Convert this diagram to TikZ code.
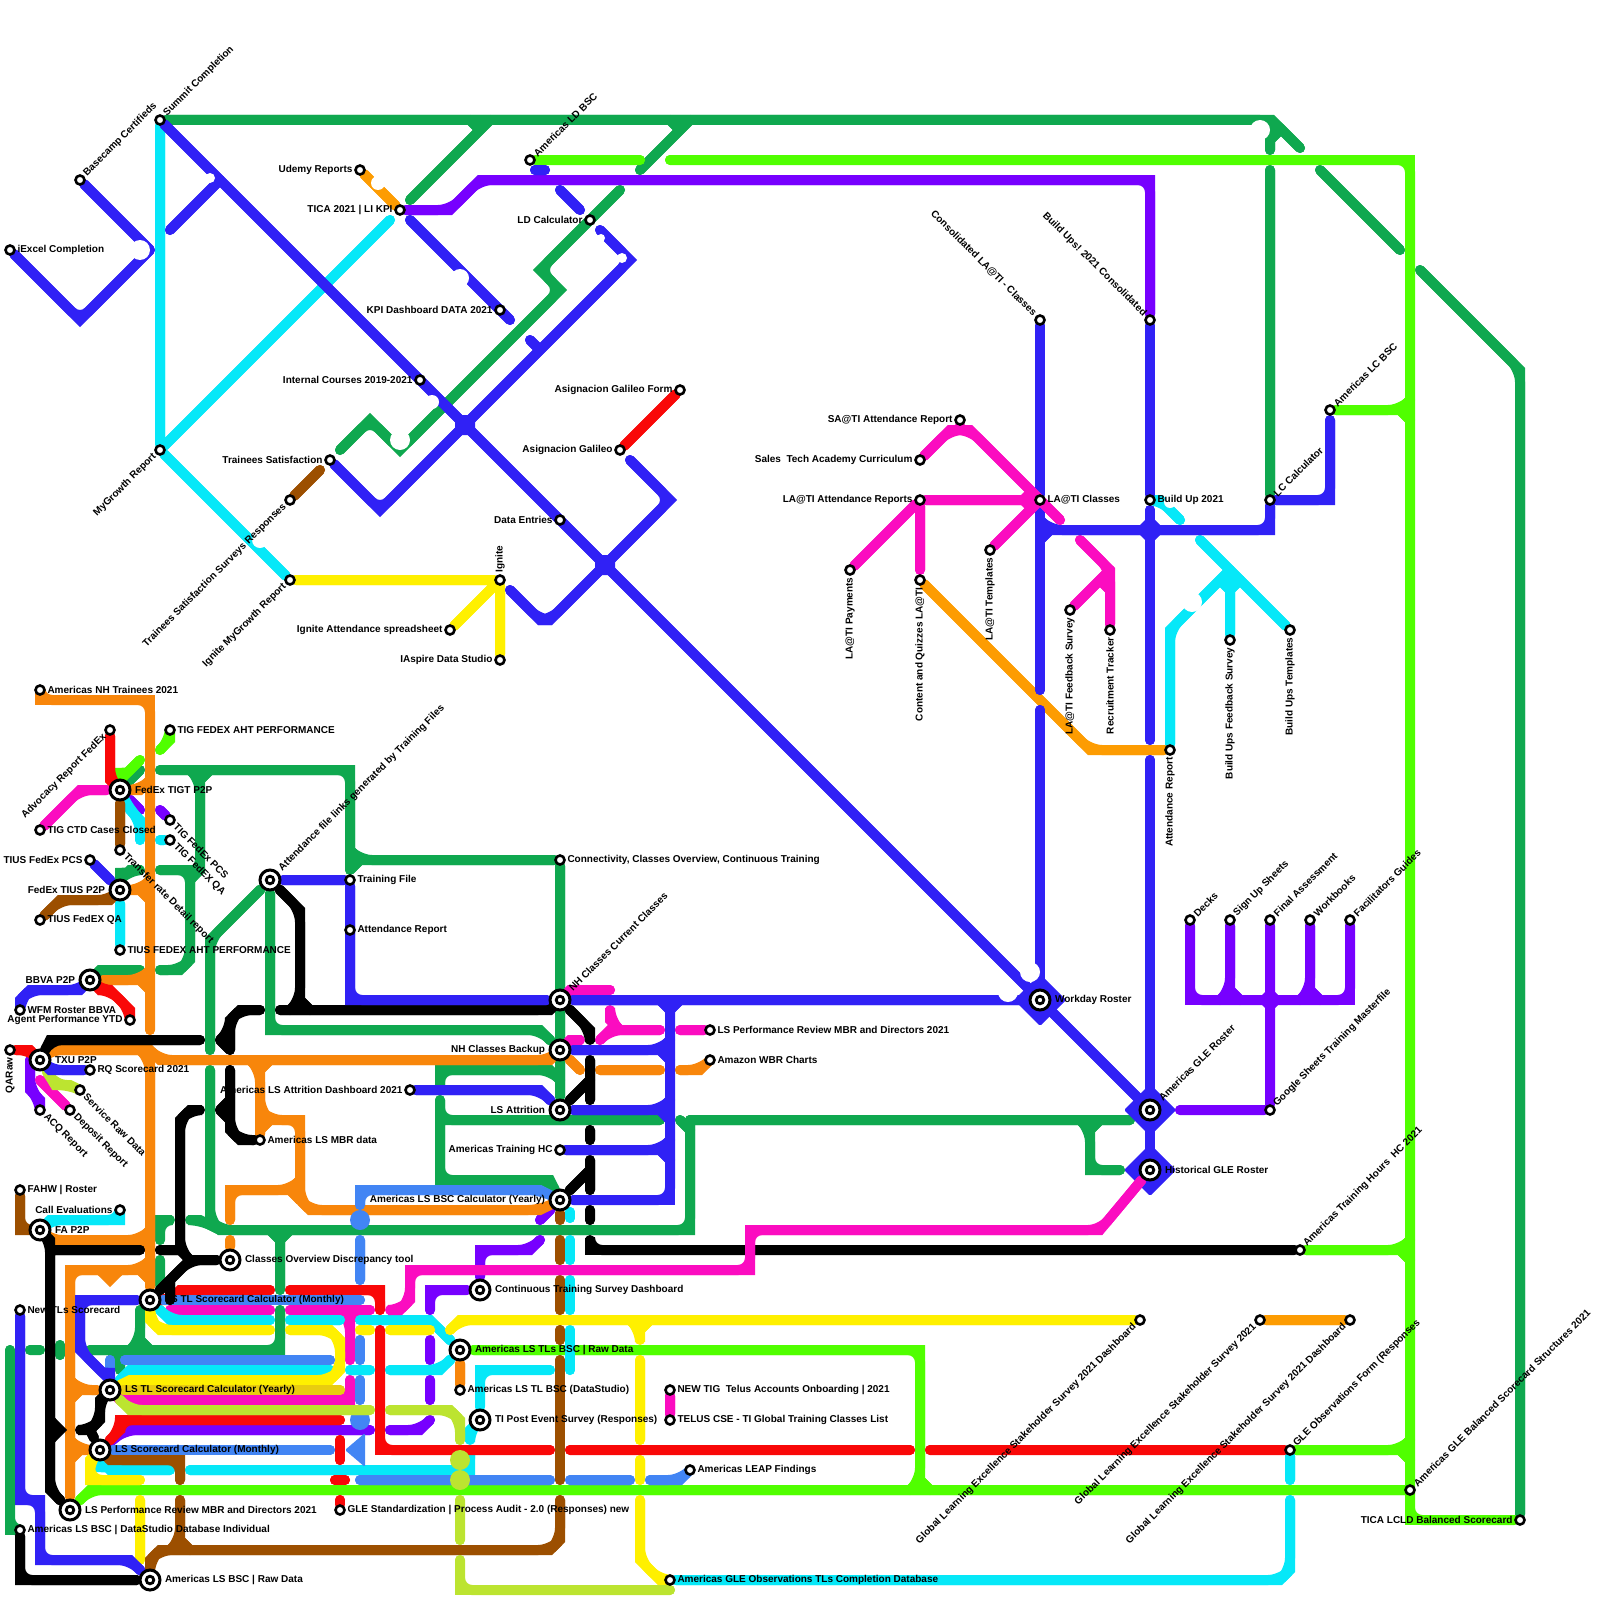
\documentclass[tikz,border=0pt]{standalone}
\usepackage{fontspec}
\setmainfont{Liberation Sans}
\usetikzlibrary{backgrounds}
\definecolor{tBlue}{HTML}{3021F5}
\definecolor{tGreen}{HTML}{0FA84F}
\definecolor{tLime}{HTML}{50FF00}
\definecolor{tPurple}{HTML}{7700FF}
\definecolor{tPink}{HTML}{FB0CC0}
\definecolor{tCyan}{HTML}{06E8F8}
\definecolor{tOrange}{HTML}{F8860B}
\definecolor{tAmber}{HTML}{FD9C02}
\definecolor{tYellow}{HTML}{FFF000}
\definecolor{tOlive}{HTML}{E8CC10}
\definecolor{tBrown}{HTML}{9C4F00}
\definecolor{tRed}{HTML}{F90808}
\definecolor{tSky}{HTML}{4285F4}
\definecolor{tMoss}{HTML}{BCE430}
\newcommand\tube[2]{\draw[line,#1] #2; \draw[line,#1,rounded corners=12pt] #2;}
\newcommand\hub[4]{\fill[#1,rounded corners=1.5pt] (#2-#4,#3) -- (#2,#3-#4) -- (#2+#4,#3) -- (#2,#3+#4) -- cycle;}
\begin{document}
\begin{tikzpicture}[
    x=1pt, y=-1pt,
    line/.style={line width=10pt, line cap=round, line join=miter},
    lbl/.style={font=\fontsize{10}{12}\selectfont\bfseries, inner ysep=0pt, inner xsep=1.5pt, text=black},
    stop/.style={circle, draw=black, fill=white, line width=2.6pt, minimum size=9pt, inner sep=0pt},
    big/.style={stop, line width=3pt, minimum size=20pt, outer sep=3.3pt,
      path picture={\draw[black, line width=2.8pt] (path picture bounding box.center) circle (3.8pt);}},
    e/.style={label={[lbl,anchor=west]0:#1}},
    w/.style={label={[lbl,anchor=east]180:#1}},
    ne/.style={label={[lbl,rotate=45,anchor=west]45:#1}},
    se/.style={label={[lbl,rotate=-45,anchor=west]-45:#1}},
    nw/.style={label={[lbl,rotate=-45,anchor=east]135:#1}},
    sw/.style={label={[lbl,rotate=45,anchor=east]225:#1}},
    n/.style={label={[lbl,rotate=90,anchor=west]90:#1}},
    s/.style={label={[lbl,rotate=90,anchor=east]270:#1}}
  ]
  \useasboundingbox (0,0) rectangle (1600,1600);

  % Top left stops.
  \node[stop,ne=Summit Completion] (summit) at (160,120) {};
  \node[stop,ne=Basecamp Certifieds] (basecamp) at (80,180) {};
  \node[stop,e=iExcel Completion] (iexcel) at (10,250) {};
  \node[stop,w=Udemy Reports] (udemy) at (360,170) {};
  \node[stop,w={TICA 2021 | LI KPI}] (tica) at (400,210) {};
  \node[stop,ne=Americas LD BSC] (ldbsc) at (530,160) {};
  \node[stop,w=LD Calculator] (ldcalc) at (590,220) {};
  \node[stop,w=KPI Dashboard DATA 2021] (kpi) at (500,310) {};
  \node[stop,w=Internal Courses 2019-2021] (internal) at (420,380) {};
  \node[stop,w=Trainees Satisfaction] (trainees) at (330,460) {};
  \node[stop,w=Asignacion Galileo Form] (galform) at (680,390) {};
  \node[stop,w=Asignacion Galileo] (galileo) at (620,450) {};
  \node[stop,w=Data Entries] (dataent) at (560,520) {};
  \node[stop,sw=Trainees Satisfaction Surveys Responses] (surveys) at (290,500) {};
  \node[stop,sw=MyGrowth Report] (mygrowth) at (160,450) {};
  \node[stop,sw=Ignite MyGrowth Report] (igrowth) at (290,580) {};
  \node[stop,n=Ignite] (ignite) at (500,580) {};
  \node[stop,w=Ignite Attendance spreadsheet] (igsheet) at (450,630) {};
  \node[stop,w=IAspire Data Studio] (iaspire) at (500,660) {};

  % LA@TI and build up stops.
  \node[stop,w=SA@TI Attendance Report] (saati) at (960,420) {};
  \node[stop,w=Sales\ \ Tech Academy Curriculum] (sales) at (920,460) {};
  \node[stop,w=LA@TI Attendance Reports] (laattend) at (920,500) {};
  \node[stop,e=LA@TI Classes] (laclass) at (1040,500) {};
  \node[stop,e=Build Up 2021] (buildup) at (1150,500) {};
  \node[stop,ne=LC Calculator] (lccalc) at (1270,500) {};
  \node[stop,ne=Americas LC BSC] (lcbsc) at (1330,410) {};
  \node[stop,s=LA@TI Payments] (lapay) at (850,570) {};
  \node[stop,s=Content and Quizzes LA@TI] (laquiz) at (920,580) {};
  \node[stop,s=LA@TI Templates] (latempl) at (990,550) {};
  \node[stop,s=LA@TI Feedback Survey] (lafeed) at (1070,610) {};
  \node[stop,s=Recruitment Tracker] (recruit) at (1110,630) {};
  \node[stop,s=Attendance Report] (attrep) at (1170,750) {};
  \node[stop,s=Build Ups Feedback Survey] (bufeed) at (1230,640) {};
  \node[stop,s=Build Ups Templates] (butempl) at (1290,630) {};
  \node[stop,nw=Consolidated LA@TI - Classes] (consol) at (1040,320) {};
  \node[stop,nw=Build Ups! 2021 Consolidated] (bucons) at (1150,320) {};

  % Roster stops.
  \node[stop,ne=Decks] (decks) at (1190,920) {};
  \node[stop,ne=Sign Up Sheets] (signup) at (1230,920) {};
  \node[stop,ne=Final Assessment] (final) at (1270,920) {};
  \node[stop,ne=Workbooks] (workbook) at (1310,920) {};
  \node[stop,ne=Facilitators Guides] (guides) at (1350,920) {};
  \node[big,e=Workday Roster] (workday) at (1040,1000) {};
  \node[big,ne=Americas GLE Roster] (gleroster) at (1150,1110) {};
  \node[big,e=Historical GLE Roster] (histroster) at (1150,1170) {};
  \node[stop,ne=Google Sheets Training Masterfile] (gsheets) at (1270,1110) {};
  \node[stop,ne=Americas Training Hours\ \ HC 2021] (athours) at (1300,1250) {};
  \node[stop,sw=Global Learning Excellence Stakeholder Survey 2021 Dashboard] (gleone) at (1140,1320) {};
  \node[stop,sw=Global Learning Excellence Stakeholder Survey 2021] (gletwo) at (1260,1320) {};
  \node[stop,sw=Global Learning Excellence Stakeholder Survey 2021 Dashboard] (glethree) at (1350,1320) {};
  \node[stop,ne=GLE Observations Form (Responses] (gleobs) at (1290,1450) {};
  \node[stop,ne=Americas GLE Balanced Scorecard Structures 2021] (glebal) at (1410,1490) {};
  \node[stop,w=TICA LCLD Balanced Scorecard] (lcld) at (1520,1520) {};
  \node[stop,e=Americas GLE Observations TLs Completion Database] (gletls) at (670,1580) {};

  % Left column stops.
  \node[stop,e=Americas NH Trainees 2021] (nhtrain) at (40,690) {};
  \node[stop,sw=Advocacy Report FedEx] (advocacy) at (110,730) {};
  \node[stop,e=TIG FEDEX AHT PERFORMANCE] (tigaht) at (170,730) {};
  \node[big,e=FedEx TIGT P2P] (tigt) at (120,790) {};
  \node[stop,e=TIG CTD Cases Closed] (tigctd) at (40,830) {};
  \node[stop,se=TIG FedEx PCS] (tigpcs) at (170,820) {};
  \node[stop,se=TIG FedEX QA] (tigqa) at (170,840) {};
  \node[stop,se=Transfer rate Detail report] (transfer) at (120,850) {};
  \node[stop,w=TIUS FedEx PCS] (tiuspcs) at (90,860) {};
  \node[big,w=FedEx TIUS P2P] (tius) at (120,890) {};
  \node[stop,e=TIUS FedEX QA] (tiusqa) at (40,920) {};
  \node[stop,e=TIUS FEDEX AHT PERFORMANCE] (tiusaht) at (120,950) {};
  \node[big,w=BBVA P2P] (bbva) at (90,980) {};
  \node[stop,e=WFM Roster BBVA] (wfm) at (20,1010) {};
  \node[stop,w=Agent Performance YTD] (agent) at (130,1020) {};
  \node[stop,s=QARaw] (qaraw) at (10,1050) {};
  \node[big,e=TXU P2P] (txu) at (40,1060) {};
  \node[stop,e=RQ Scorecard 2021] (rq) at (90,1070) {};
  \node[stop,se=Service Raw Data] (service) at (80,1090) {};
  \node[stop,se=Deposit Report] (deposit) at (70,1110) {};
  \node[stop,se=ACQ Report] (acq) at (40,1110) {};
  \node[stop,e=FAHW | Roster] (fahw) at (20,1190) {};
  \node[stop,w=Call Evaluations] (callev) at (120,1210) {};
  \node[big,e=FA P2P] (fa) at (40,1230) {};
  \node[stop,e=New TLs Scorecard] (newtl) at (20,1310) {};
  \node[big,e=LS TL Scorecard Calculator (Monthly)] (tlmonth) at (150,1300) {};
  \node[big,e=LS TL Scorecard Calculator (Yearly)] (tlyear) at (110,1390) {};
  \node[big,e=LS Scorecard Calculator (Monthly)] (lsmonth) at (100,1450) {};
  \node[big,e=LS Performance Review MBR and Directors 2021] (lsperf) at (70,1510) {};
  \node[stop,e={Americas LS BSC | DataStudio Database Individual}] (bscds) at (20,1530) {};
  \node[big,e={Americas LS BSC | Raw Data}] (bscraw) at (150,1580) {};

  % Middle stops.
  \node[big,ne=Attendance file links generated by Training Files] (attfile) at (270,880) {};
  \node[stop,e=Training File] (trainfile) at (350,880) {};
  \node[stop,e=Attendance Report] (attend) at (350,930) {};
  \node[stop,e={Connectivity, Classes Overview, Continuous Training}] (connect) at (560,860) {};
  \node[big,ne=NH Classes Current Classes] (nhcur) at (560,1000) {};
  \node[big,w=NH Classes Backup] (nhback) at (560,1050) {};
  \node[big,w=LS Attrition] (lsattr) at (560,1110) {};
  \node[stop,w=Americas Training HC] (trainhc) at (560,1150) {};
  \node[stop,w=Americas LS Attrition Dashboard 2021] (attrdash) at (410,1090) {};
  \node[big,w=Americas LS BSC Calculator (Yearly)] (bsccalc) at (560,1200) {};
  \node[stop,e=Americas LS MBR data] (mbrdata) at (260,1140) {};
  \node[stop,e=LS Performance Review MBR and Directors 2021] (lsreview) at (710,1030) {};
  \node[stop,e=Amazon WBR Charts] (amazon) at (710,1060) {};
  \node[big,e=Classes Overview Discrepancy tool] (classes) at (230,1260) {};
  \node[big,e=Continuous Training Survey Dashboard] (contin) at (480,1290) {};
  \node[big,e={Americas LS TLs BSC | Raw Data}] (tlsraw) at (460,1350) {};
  \node[stop,e=Americas LS TL BSC (DataStudio)] (tlbsc) at (460,1390) {};
  \node[big,e=TI Post Event Survey (Responses)] (tipost) at (480,1420) {};
  \node[stop,e={NEW TIG\ \ Telus Accounts Onboarding | 2021}] (newtig) at (670,1390) {};
  \node[stop,e=TELUS CSE - TI Global Training Classes List] (telus) at (670,1420) {};
  \node[stop,e=Americas LEAP Findings] (leap) at (690,1470) {};
  \node[stop,e={GLE Standardization | Process Audit - 2.0 (Responses) new}] (glestd) at (340,1510) {};

  \begin{scope}[on background layer]
    % Green lines.
    \tube{tGreen}{(summit) -- (1272,120) -- (1300,148) (1320,170) -- (1400,250) (1420,270) -- (1520,370) -- (lcld)}
    \tube{tGreen}{(1270,125) -- (1270,150) (1280,130) -- (1270,140) (1270,170) -- (lccalc)}
    \tube{tGreen}{(410,200) -- (490,120) (470,120) -- (480,130) (640,170) -- (690,120) (670,120) -- (680,130)}
    \tube{tGreen}{(620,190) -- (540,270) -- (560,290) -- (400,450) -- (370,420) -- (340,450)}
    \tube{tGreen}{(160,770) -- (350,770) -- (350,870) (350,850) -- (360,860) -- (connect) -- (lsattr) (350,870) -- (360,860)}
    \tube{tGreen}{(190,770) -- (200,780) -- (200,870) -- (190,880) (210,770) -- (200,780)}
    \tube{tGreen}{(160,870) -- (190,870) -- (190,960) -- (180,970) -- (160,970)}
    \tube{tGreen}{(attfile) -- (210,940) -- (210,1050) (210,1070) -- (210,1220) -- (220,1230) -- (690,1230) -- (690,1120) (190,1220) -- (200,1220) -- (220,1230)}
    \tube{tGreen}{(680,1120) -- (690,1130) (690,1120) -- (1130,1120) (1080,1120) -- (1090,1130) -- (1090,1170) -- (1120,1170) (1100,1120) -- (1090,1130)}
    \tube{tGreen}{(attfile) -- (270,1030) -- (540,1030) -- (nhback)}
    \tube{tGreen}{(440,1085) -- (440,1070) -- (550,1070) -- (560,1080)}
    \tube{tGreen}{(440,1100) -- (440,1120) -- (660,1120) (440,1100) -- (440,1180) -- (550,1180) -- (bsccalc)}
    \tube{tGreen}{(170,1220) -- (160,1220) -- (160,1240) (160,1260) -- (160,1285)}
    \tube{tGreen}{(140,1310) -- (140,1340) -- (130,1350) (90,1350) -- (280,1350) -- (280,1310) (280,1240) -- (280,1290) (140,1340) -- (150,1350)}
    \tube{tGreen}{(270,1230) -- (280,1240) (290,1230) -- (280,1240) (120,1350) -- (120,1370) (110,1350) -- (120,1360) (130,1350) -- (120,1360)}
    \tube{tGreen}{(30,1350) -- (40,1350) (60,1345) -- (60,1355) (10,1350) -- (10,1530) -- (bscds)}
    \tube{tGreen}{(bbva) -- (100,970) -- (140,970) (tigt) -- (140,770) (tius) -- (120,880) -- (130,870) -- (140,870)}

    % Lime lines.
    \tube{tLime}{(ldbsc) -- (640,160) (670,160) -- (1410,160) -- (1410,1520) -- (lcld)}
    \tube{tLime}{(lcbsc) -- (1400,410) -- (1410,400) (1400,410) -- (1410,420)}
    \tube{tLime}{(athours) -- (1400,1250) -- (1410,1240) (1400,1250) -- (1410,1260)}
    \tube{tLime}{(gleobs) -- (1400,1450) -- (1410,1440) (1400,1450) -- (1410,1460)}
    \tube{tLime}{(lsperf) -- (90,1490) -- (1410,1490)}
    \tube{tLime}{(tlsraw) -- (920,1350) -- (920,1480) -- (910,1490) (920,1480) -- (930,1490)}
    \tube{tLime}{(tigaht) -- (170,740) -- (160,750) (tigt) -- (120,780) -- (140,760)}

    % Purple lines.
    \tube{tPurple}{(tica) -- (450,210) -- (480,180) -- (1150,180) -- (bucons)}
    \tube{tPurple}{(decks) -- (1190,1000) -- (1350,1000) -- (guides) (final) -- (gsheets) -- (1180,1110)}
    \tube{tPurple}{(signup) -- (1230,990) -- (1220,1000) (1230,990) -- (1240,1000) (workbook) -- (1310,990) -- (1300,1000) (1310,990) -- (1320,1000)}
    \hub{tPurple}{1270}{1000}{13}
    \tube{tPurple}{(tigt) -- (140,810) (160,810) -- (tigpcs) (30,1060) -- (30,1090) -- (40,1100) -- (acq)}
    \tube{tPurple}{(bsccalc) -- (540,1220) (540,1240) -- (530,1250) -- (480,1250) -- (480,1265) (480,1275) -- (contin)}
    \tube{tPurple}{(contin) -- (430,1290) -- (430,1310) (430,1340) -- (430,1360) (430,1380) -- (430,1400)}
    \tube{tPurple}{(390,1430) -- (420,1430) -- (430,1420) (lsmonth) -- (125,1430) -- (370,1430)}

    % Pink lines.
    \tube{tPink}{(1080,540) -- (1110,570) -- (recruit) (lafeed) -- (1110,570) (1100,580) -- (1110,590)}
    \tube{tPink}{(tigctd) -- (80,790) -- (tigt) (40,1080) -- (deposit)}
    \tube{tPink}{(nhcur) -- (570,990) -- (610,990) (nhback) -- (570,1040) -- (580,1040)}
    \tube{tPink}{(600,1040) -- (610,1030) -- (660,1030) (610,1010) -- (610,1020) -- (620,1030) (680,1030) -- (lsreview)}
    \tube{tPink}{(170,1310) -- (270,1310) (290,1310) -- (370,1310) (340,1310) -- (350,1320) -- (350,1360) (360,1310) -- (350,1320)}
    \tube{tPink}{(tlyear) -- (120,1400) -- (350,1400) -- (350,1380) (newtig) -- (telus)}

    % Cyan lines.
    \tube{tCyan}{(summit) -- (mygrowth) -- (igrowth) (mygrowth) -- (390,220)}
    \tube{tCyan}{(buildup) -- (1160,500) -- (1180,520) (1200,540) -- (butempl)}
    \tube{tCyan}{(attrep) -- (1170,630) -- (1230,570) (1230,575) -- (bufeed) (1220,580) -- (1230,590) (1240,580) -- (1230,590)}
    \tube{tCyan}{(callev) -- (120,1220) -- (50,1220) -- (fa) (tigt) -- (130,810) -- (140,820) -- (140,840) (160,840) -- (tigqa) (tius) -- (tiusaht)}
    \tube{tCyan}{(tlmonth) -- (170,1320) -- (270,1320) (290,1320) -- (340,1320) (360,1320) -- (430,1320) -- (tlsraw)}
    \tube{tCyan}{(tlyear) -- (130,1370) -- (330,1370) (350,1370) -- (370,1370) (390,1370) -- (440,1370) -- (tlsraw)}
    \tube{tCyan}{(lsmonth) -- (100,1460) -- (110,1470) -- (170,1470) (190,1470) -- (470,1470) -- (470,1455) (tipost) -- (470,1430) -- (470,1440)}
    \tube{tCyan}{(tipost) -- (480,1370) -- (550,1370)}
    \tube{tCyan}{(570,1212) -- (570,1218) (570,1240) -- (570,1260) (570,1280) -- (570,1310) (570,1330) -- (570,1370)}
    \tube{tCyan}{(gletls) -- (1280,1580) -- (1290,1570) -- (1290,1500) (gleobs) -- (1290,1480)}

    % Orange lines.
    \tube{tOrange}{(nhtrain) -- (40,700) -- (150,700) -- (150,1030)}
    \tube{tOrange}{(tigt) -- (140,790) -- (150,780)}
    \tube{tOrange}{(tius) -- (140,890) -- (150,880) (140,890) -- (150,900)}
    \tube{tOrange}{(bbva) -- (140,980) -- (150,970) (140,980) -- (150,990)}
    \tube{tOrange}{(txu) -- (50,1050) -- (150,1050) -- (160,1060) -- (550,1060) -- (nhback)}
    \tube{tOrange}{(140,1050) -- (150,1060) -- (tlmonth)}
    \tube{tOrange}{(fa) -- (50,1240) -- (140,1240) -- (150,1230) (140,1240) -- (150,1250)}
    \tube{tOrange}{(150,1260) -- (140,1270) -- (70,1270) -- (lsperf) (140,1270) -- (150,1280)}
    \tube{tOrange}{(100,1270) -- (110,1280) -- (120,1270)}
    \tube{tOrange}{(70,1380) -- (80,1390) -- (tlyear) (70,1400) -- (80,1390) (70,1440) -- (80,1450) -- (lsmonth) (70,1460) -- (80,1450)}
    \tube{tOrange}{(250,1060) -- (260,1070) -- (260,1110) -- (270,1120) -- (300,1120) -- (300,1200) -- (310,1210) -- (540,1210) -- (bsccalc)}
    \tube{tOrange}{(270,1060) -- (260,1070) (260,1110) -- (mbrdata) (260,1130) -- (270,1120)}
    \tube{tOrange}{(230,1220) -- (230,1190) -- (290,1190) -- (300,1180) (290,1190) -- (300,1200) (230,1240) -- (classes)}
    \tube{tOrange}{(tlsraw) -- (tlbsc) (nhback) -- (580,1070) (600,1070) -- (660,1070) (680,1070) -- (700,1070) -- (amazon)}
    \tube{tAmber}{(udemy) -- (tica) (laquiz) -- (1090,750) -- (attrep) (gletwo) -- (glethree)}

    % Yellow lines.
    \tube{tYellow}{(igrowth) -- (ignite) -- (iaspire) (igsheet) -- (ignite) (490,580) -- (500,590)}
    \tube{tYellow}{(tlmonth) -- (150,1320) -- (160,1330) -- (270,1330) (290,1330) -- (330,1330) -- (340,1340) -- (340,1370) -- (330,1380) -- (130,1380) -- (tlyear)}
    \tube{tOlive}{(tlyear) -- (340,1390)}
    \tube{tYellow}{(360,1330) -- (370,1330) (390,1330) -- (430,1330) (450,1330) -- (460,1320) -- (gleone)}
    \tube{tYellow}{(630,1320) -- (640,1330) -- (640,1340) (650,1320) -- (640,1330) (640,1360) -- (640,1440) (640,1460) -- (640,1480) (640,1500) -- (640,1560) -- (660,1580) -- (gletls)}
    \tube{tYellow}{(lsmonth) -- (90,1460) -- (90,1480) -- (140,1480) (140,1500) -- (140,1560)}

    % Brown lines.
    \tube{tBrown}{(surveys) -- (320,470) (tigt) -- (transfer) (tius) -- (110,900) -- (60,900) -- (tiusqa)}
    \tube{tBrown}{(fahw) -- (20,1230) -- (fa) (lsmonth) -- (110,1460) -- (180,1460) -- (180,1480)}
    \tube{tBrown}{(180,1500) -- (180,1540) -- (170,1550) (180,1540) -- (190,1550)}
    \tube{tBrown}{(bscraw) -- (150,1560) -- (160,1550) -- (550,1550) -- (560,1540) -- (560,1500)}
    \tube{tBrown}{(560,1360) -- (560,1480) (560,1330) -- (560,1340) (560,1280) -- (560,1310) (560,1240) -- (560,1260) (bsccalc) -- (560,1220)}

    % Red lines.
    \tube{tRed}{(qaraw) -- (30,1050) -- (txu) (advocacy) -- (110,780) -- (tigt) (galileo) -- (galform)}
    \tube{tRed}{(bbva) -- (100,990) -- (110,990) -- (130,1010) -- (agent)}
    \tube{tRed}{(tlmonth) -- (170,1300) -- (180,1290) -- (270,1290) (290,1290) -- (380,1290) -- (380,1310)}
    \tube{tRed}{(380,1330) -- (380,1450) -- (550,1450) (570,1450) -- (910,1450) (930,1450) -- (gleobs)}
    \tube{tRed}{(lsmonth) -- (120,1430) -- (120,1420) -- (340,1420)}
    \tube{tRed}{(340,1440) -- (340,1460) (335,1480) -- (345,1480) (340,1500) -- (glestd)}

    % Sky blue lines.
    \tube{tSky}{(360,1205) -- (360,1190) -- (540,1190) -- (bsccalc) (360,1240) -- (360,1280)}
    \tube{tSky}{(tlmonth) -- (360,1300) (360,1340) -- (360,1360) (360,1380) -- (360,1400)}
    \tube{tSky}{(125,1360) -- (330,1360) (110,1360) -- (110,1375) (lsmonth) -- (330,1450)}
    \tube{tSky}{(360,1480) -- (550,1480) (570,1480) -- (630,1480) (650,1480) -- (680,1480) -- (leap)}
    \fill[tSky] (360,1220) circle (10) (360,1420) circle (10);
    \fill[tSky,rounded corners=1.5pt] (345,1450) -- (365,1433) -- (365,1467) -- cycle;

    % Moss lines.
    \tube{tMoss}{(txu) -- (55,1085) -- (70,1085) -- (service)}
    \tube{tMoss}{(tlyear) -- (130,1410) -- (370,1410) (390,1410) -- (450,1410) -- (460,1420) -- (460,1440)}
    \tube{tMoss}{(460,1500) -- (460,1540) (460,1560) -- (460,1590) -- (670,1590)}
    \fill[tMoss] (460,1460) circle (10) (460,1480) circle (10);

    % Black lines.
    \tube{black}{(fa) -- (50,1240) -- (50,1490) -- (lsperf) (50,1250) -- (140,1250)}
    \tube{black}{(50,1420) -- (60,1430) -- (50,1440)}
    \tube{black}{(200,1110) -- (190,1110) -- (180,1120) -- (180,1250) -- (190,1260) (160,1250) -- (180,1250)}
    \tube{black}{(tlmonth) -- (190,1260) -- (classes) (170,1280) -- (170,1300)}
    \tube{black}{(txu) -- (50,1040) -- (200,1040)}
    \tube{black}{(220,1040) -- (230,1030) -- (230,1020) -- (240,1010) -- (260,1010) (220,1040) -- (230,1050) (230,1030) -- (230,1050)}
    \tube{black}{(220,1110) -- (230,1100) (220,1110) -- (230,1120) (230,1070) -- (230,1130) -- (240,1140) -- (mbrdata)}
    \tube{black}{(attfile) -- (300,910) -- (300,1000) -- (290,1010) (300,1000) -- (310,1010)}
    \tube{black}{(280,1010) -- (550,1010) -- (nhcur) -- (590,1030) -- (590,1040) (590,1060) -- (590,1100)}
    \tube{black}{(lsattr) -- (590,1080) (590,1130) -- (590,1140) (bsccalc) -- (590,1170) (590,1160) -- (590,1190)}
    \tube{black}{(590,1210) -- (590,1220) (590,1240) -- (590,1250) -- (athours)}
    \tube{black}{(bscds) -- (20,1580) -- (bscraw) (tlyear) -- (100,1400) -- (100,1420) -- (90,1430) -- (80,1430) (90,1430) -- (lsmonth)}

    % Blue lines.
    \tube{tBlue}{(iexcel) -- (80,320) -- (150,250) (basecamp) -- (150,250) (170,230) -- (220,180)}
    \tube{tBlue}{(summit) -- (workday) -- (gleroster) (410,220) -- (510,320)}
    \tube{tBlue}{(trainees) -- (380,510) -- (630,260) -- (600,230) (530,340) -- (540,350)}
    \tube{tBlue}{(535,170) -- (545,170) (560,190) -- (580,210)}
    \tube{tBlue}{(630,460) -- (670,500) -- (550,620) -- (540,620) -- (510,590)}
    \tube{tBlue}{(consol) -- (laclass) -- (1040,690) (1040,710) -- (workday)}
    \tube{tBlue}{(1040,520) -- (1050,530) -- (1270,530) -- (lccalc) -- (1330,500) -- (1330,420) (1040,540) -- (1050,530)}
    \tube{tBlue}{(bucons) -- (buildup) (1150,510) -- (1150,740) (1150,760) -- (gleroster) -- (histroster)}
    \tube{tBlue}{(attfile) -- (trainfile) -- (350,1000) -- (nhcur) -- (workday) (attrdash) -- (540,1090) -- (lsattr)}
    \tube{tBlue}{(nhcur) -- (670,1000) -- (670,1200) -- (bsccalc)}
    \tube{tBlue}{(660,1000) -- (670,1010) (680,1000) -- (670,1010)}
    \tube{tBlue}{(nhback) -- (660,1050) -- (670,1040) (660,1050) -- (670,1060) (lsattr) -- (660,1110) -- (670,1100) (660,1110) -- (670,1120)}
    \tube{tBlue}{(trainhc) -- (660,1150) -- (670,1140) (660,1150) -- (670,1160)}
    \tube{tBlue}{(newtl) -- (20,1500) -- (40,1500) -- (40,1560) -- (130,1560) -- (bscraw)}
    \tube{tBlue}{(tlmonth) -- (80,1300) -- (80,1350) -- (110,1380) -- (tlyear) (txu) -- (50,1070) -- (rq)}
    \tube{tBlue}{(bbva) -- (80,990) -- (30,990) -- (20,1000) -- (wfm) (tiuspcs) -- (tius)}
    \hub{tBlue}{1150}{530}{15}
    \hub{tBlue}{1040}{1000}{26}
    \hub{tBlue}{1150}{1110}{26}
    \hub{tBlue}{1150}{1170}{26}
    \fill[tBlue,rounded corners=1pt] (455,415) rectangle (475,435);
    \fill[tBlue,rounded corners=1pt] (595,555) rectangle (615,575);

    % Pink lines over the blue.
    \tube{tPink}{(sales) -- (950,430) -- (970,430) -- (1060,520) (saati) -- (960,430)}
    \tube{tPink}{(laattend) -- (laclass) (lapay) -- (laattend) -- (920,570) (latempl) -- (laclass)}
    \hub{tPink}{1030}{500}{14}
    \tube{tPink}{(histroster) -- (1100,1230) -- (750,1230) -- (750,1270) -- (410,1270) -- (410,1300) -- (400,1310) -- (390,1310)}

    % Bites in the lines.
    \fill[white] (140,250) circle (10) (210,178) circle (5) (378,183) circle (7);
    \fill[white] (460,278) circle (9) (400,440) circle (10) (432,402) circle (7);
    \fill[white] (260,540) circle (8) (601,238) circle (4) (622,258) circle (5);
    \fill[white] (1260,130) circle (10) (1030,972) circle (10) (1008,992) circle (10);
    \fill[white] (1192,602) circle (10) (1170,502) circle (6);
  \end{scope}
\end{tikzpicture}
\end{document}
